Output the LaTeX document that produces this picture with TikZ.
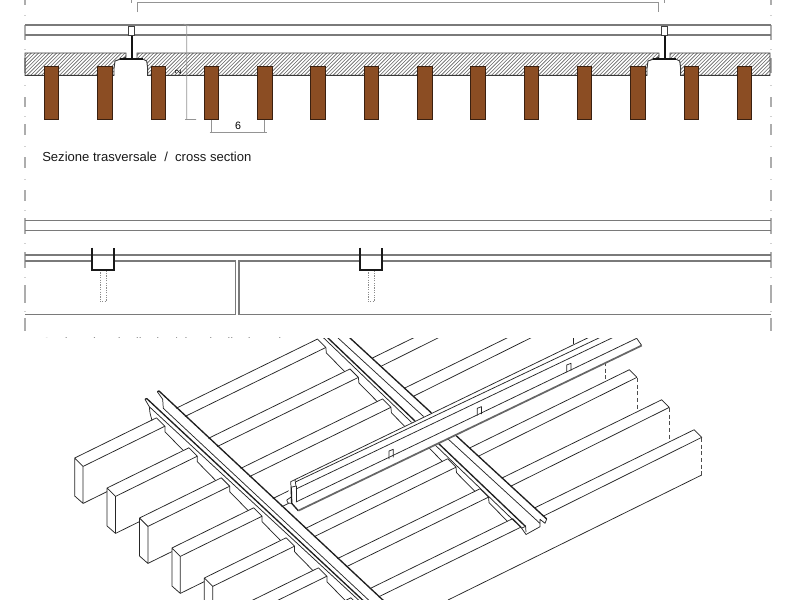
\documentclass[tikz,border=0pt]{standalone}
\usepackage{fontspec}
\setmainfont{Liberation Sans}
\definecolor{wood}{HTML}{8B4D23}
\definecolor{woodedge}{HTML}{3A2010}
\tikzset{
  sideline/.style={draw=black!52,line width=0.8pt},
  dashborder/.style={draw=black!32,line width=1.1pt},
  dotborder/.style={draw=black!18,line width=0.8pt},
  dimline/.style={draw=black!42,line width=0.45pt},
  boardbox/.style={fill=wood,draw=woodedge,line width=0.6pt},
  bandedge/.style={draw=black!78,line width=0.7pt},
  hatchline/.style={draw=black!62,line width=0.45pt},
  rodline/.style={draw=black!92,line width=1.2pt},
  capline/.style={draw=black!92,line width=1.3pt},
  ubar/.style={draw=black!90,line width=1.3pt},
  pegline/.style={draw=black!45,line width=0.45pt,dash pattern=on 0.9pt off 0.9pt},
  iso/.style={draw=black!85,line width=0.55pt,line join=round},
  isothick/.style={draw=black!88,line width=1pt,line join=round},
  isogrey/.style={draw=black!60,line width=1.3pt},
  isodash/.style={draw=black!70,line width=0.45pt,dash pattern=on 3pt off 2pt},
  captiontext/.style={font=\fontsize{9.8pt}{11pt}\selectfont,anchor=west,inner sep=0pt,text=black!90},
}
\newcommand{\bandshape}{%
  (25,53)--(126,53)--(126,57.3)--(120,59.3)--(115,61)--(114,68.3)--(114,75.3)--(25,75.3)--cycle
  (137,53)--(659,53)--(659,57.3)--(653,59.3)--(648,61)--(647,68.3)--(647,75.3)--(147.7,75.3)--(147.7,68.3)--(146.7,61)--(143.3,59.3)--(137,59.3)--cycle
  (670,53)--(770,53)--(770,75.3)--(680.7,75.3)--(680.7,68.3)--(679.7,61)--(676.3,59.3)--(670,59.3)--cycle}
\begin{document}
\begin{tikzpicture}[x=0.75pt,y=-0.75pt]
\useasboundingbox (0,0) rectangle (800,600);
% --- side dashes
\foreach \xx in {25,771}{
  \foreach \ya/\yb in {0/5,25/40,58/73,97/107,124/135,157/168,190/201,218/234,252/268,285/303,318/331}{
    \draw[dashborder] (\xx,\ya)--(\xx,\yb);
  }
  \foreach \yd in {15,49,85,116,146,179,210,243,277,311}{
    \draw[dotborder] (\xx,\yd)--(\xx,\yd+1);
  }
}
% --- cross section
\draw[sideline] (25,25)--(771,25) (25,35)--(771,35);
\begin{scope}
  \clip \bandshape;
  \foreach \k in {0,...,225}{
    \draw[hatchline] (-10+3.6*\k,80)--(-10+3.6*\k+32,48);
  }
\end{scope}
\draw[bandedge] \bandshape;
\foreach \k in {0,...,13}{
  \draw[boardbox] (44.3+53.3*\k,66)rectangle(58.8+53.3*\k,119.5);
}
\foreach \cx in {131.7,664.7}{
  \draw[rodline] (\cx,35)--(\cx,59);
  \draw[capline] (\cx-11.7,59.3)--(\cx+11.7,59.3);
  \draw[draw=black!75,fill=white,line width=0.6pt] (\cx-3,26)rectangle(\cx+3,35);
}
% dimensions
\draw[dimline] (137,12)--(137,2.5)--(658,2.5)--(658,12);
\draw[dimline] (131,0)--(131,3) (664.5,0)--(664.5,3);
\draw[dimline] (183.5,24)--(189.5,26) (186.7,25)--(186.7,119.5) (185,119.5)--(196,119.5);
\draw[dimline] (211.7,120)--(211.7,132.7) (264.7,120)--(264.7,132.7) (209.5,132.7)--(266.5,132.7);
\node[font=\fontsize{8pt}{9pt}\selectfont,inner sep=0pt] (six) at (238,125.5) {6};
\node[font=\fontsize{6.5pt}{7pt}\selectfont,inner sep=0pt,rotate=90] (two) at (178,72.5) {2};
\node[captiontext] (capA) at (42,156.5) {Sezione trasversale\ \ /\ \ cross section};
% --- longitudinal section
\draw[sideline] (25,220.7)--(771,220.7) (25,230.3)--(771,230.3);
\draw[sideline] (25,255)--(771,255);
\draw[sideline] (25,261)--(235.5,261)--(235.5,314.7)--(25,314.7);
\draw[sideline] (771,261)--(239,261)--(239,314.7)--(771,314.7);
\foreach \cx in {92,360}{
  \draw[pegline] (\cx+8,270)--(\cx+8,301.5)--(\cx+14,301.5)--(\cx+14,270);
  \fill[white] (\cx+0.6,256)rectangle(\cx+21.4,269);
  \draw[sideline] (\cx,255)--(\cx+22,255);
  \draw[ubar] (\cx,247.7)--(\cx,269.7)--(\cx+22,269.7)--(\cx+22,247.7);
}
\node[captiontext] (capB) at (42,344) {Sezione longitudinale\ \ /\ \ longitudinal section};
\fill[white] (0,338)rectangle(800,600);
% --- isometric view
\begin{scope}
\clip (0,338) rectangle (800,600);
\foreach \i in {0,...,6}{
  \pgfmathsetmacro\Ax{74.7+32.4*\i}
  \pgfmathsetmacro\Ay{458+30*\i}
  \pgfmathsetmacro\Bx{\Ax+8.4}
  \pgfmathsetmacro\By{\Ay+8.4}
  \pgfmathsetmacro\Ex{\Ax+81.8}
  \pgfmathsetmacro\Ey{\Ay-40.2}
  \pgfmathsetmacro\Fx{\Ex+8.4}
  \pgfmathsetmacro\Fy{\Ey+8.4}
  % end face and stretch up to the first channel
  \draw[iso] (\Ex,\Ey)--(\Ax,\Ay)--(\Bx,\By)--(\Bx,\By+37)--(\Ax,\Ay+38)--(\Ax,\Ay);
  \draw[iso] (\Bx,\By)--(\Fx,\Fy);
  \draw[iso] (\Bx,\By+37)--(\Bx+24,\By+25.2);
  \draw[iso] (\Ex,\Ey)--(\Fx,\Fy)--(\Fx,\Fy+5.5)--(\Ex+26.8,\Ey+32.7);
  % between the channels
  \pgfmathsetmacro\aA{(\Ay+0.49*\Ax-244.2)/1.422}
  \pgfmathsetmacro\aB{(\By+0.49*\Bx-244.2)/1.422}
  \pgfmathsetmacro\Gx{(\Ay+0.49*\Ax-47)/1.41}
  \pgfmathsetmacro\Gy{\Ay-0.49*(\Gx-\Ax)}
  \draw[iso] (\aA,{\Ay-0.49*(\aA-\Ax)})--(\Gx,\Gy)--(\Gx+8.4,\Gy+8.4);
  \draw[iso] (\aB,{\By-0.49*(\aB-\Bx)})--(\Gx+8.4,\Gy+8.4);
  \ifnum\i<6
    \draw[iso] (\Gx+8.4,\Gy+8.4)--(\Gx+8.9,\Gy+13.9)--(\Gx+27.4,\Gy+32.7);
  \fi
  % beyond the second channel
  \pgfmathsetmacro\cA{(\Ay+0.49*\Ax-16)/1.41}
  \pgfmathsetmacro\cB{(\By+0.49*\Bx-16)/1.41}
  \pgfmathsetmacro\Hx{\Ax+425}
  \pgfmathsetmacro\Hy{\Ay-0.49*425}
  \draw[iso] (\cA,{\Ay-0.49*(\cA-\Ax)})--(\Hx,\Hy)--(\Hx+7.6,\Hy+7.6)--(\cB,{\By-0.49*(\cB-\Bx)});
}
% hidden edges
\foreach \xa/\ya/\yb in {605.7/362/381.7,637.3/378/411.7,669.3/408/441.7,701.7/438/475}{
  \draw[isodash] (\xa,\ya)--(\xa,\yb);
}
\draw[iso] (701.7,475)--(448,600);
% first channel
\draw[isothick] (145,399.3)--(146.8,398.6)--(369,606);
\draw[isothick] (157.3,391.7)--(159,391)--(385,602);
\draw[iso] (157.3,391.7)--(162.7,399.3)--(163.3,408.3)--(375,606);
\draw[iso] (145,399.3)--(149.3,406.7)--(150,413)--(152,420.5);
\draw[iso] (149.3,406.7)--(365,606);
% second channel
\draw[isothick] (320,310.4)--(546.7,519);
\draw[iso] (320,321.4)--(540,523.4);
\draw[isothick] (320,330.4)--(525.6,526.5);
\draw[iso] (320,334.4)--(521.5,528);
\draw[iso] (546.7,519)--(545,523.3)--(540,519.3)--(540,526.7)--(526,534.5)--(521.5,528)--(525.6,526.5)--(526,532);
% cross beam
\fill[white] (286.7,500)--(290.7,481)--(295,479)--(586,338)--(636.7,330)--(641.7,345.5)--(298.3,510.7)--(291.7,503.3)--(288,503)--cycle;
\draw[iso] (290.7,481.7)--(295,479.6)--(296,486)--(291,487.3)--cycle;
\draw[isothick] (291.2,487.3)--(291.7,503.3)--(298.3,510.7);
\draw[iso] (286.7,500)--(291.7,496.7) (286.7,500)--(288,503)--(291.7,503.3);
\draw[iso] (296,486)--(296,501.5);
\draw[iso] (295,479.6)--(590,336.8);
\draw[iso] (296,481.7)--(602,336.5);
\draw[iso] (296,489)--(615,336.5);
\draw[iso] (296,502)--(636.7,338.3);
\draw[iso] (636.7,338.3)--(641.7,345.5);
\draw[isogrey] (298.3,510.7)--(641.7,345.5);
\foreach \xa/\yaa/\ybb in {389/451/459,477.3/408.3/415.7,566.7/365/372.3}{
  \draw[iso] (\xa,\ybb)--(\xa,\yaa)--(\xa+4.3,\yaa-1.7)--(\xa+4.3,\ybb-1.7);
}
\draw[iso] (573,338)--(573,344);
\end{scope}
\end{tikzpicture}
\end{document}
